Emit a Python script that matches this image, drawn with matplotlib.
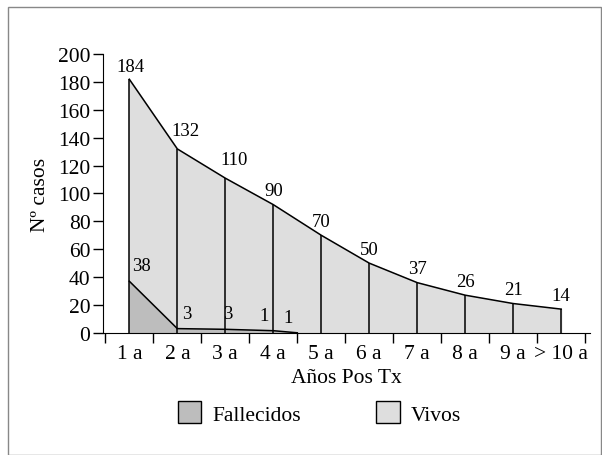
import matplotlib.pyplot as plt
from matplotlib.patches import Patch, Rectangle

plt.rcParams['font.family'] = ['Liberation Serif', 'DejaVu Serif']

categorias = ['1 a', '2 a', '3 a', '4 a', '5 a', '6 a', '7 a', '8 a', '9 a', '> 10 a']
vivos = [182, 132, 111, 92, 70, 50, 36, 27, 21, 17]
vivos_etiquetas = ['184', '132', '110', '90', '70', '50', '37', '26', '21', '14']
fallecidos = [37, 3, 2.5, 1.5]
fallecidos_etiquetas = ['38', '3', '3', '1', '1']

fig = plt.figure(figsize=(6.02, 4.56), dpi=100)
ax = fig.add_axes([0.171, 0.268, 0.809, 0.611])

x = list(range(len(categorias)))

# Vivos area with vertical lines at each category
ax.fill_between(x, 0, vivos, color='#dedede', zorder=1)
ax.plot(x, vivos, color='black', lw=1.1, zorder=3)
ax.vlines(x, 0, vivos, color='black', lw=1.1, zorder=3)

# Fallecidos area, falls to 0 halfway to 5 a
fx = list(range(len(fallecidos))) + [len(fallecidos) - 0.5]
fy = fallecidos + [0]
ax.fill_between(fx, 0, fy, color='#bdbdbd', zorder=2)
ax.plot(fx, fy, color='black', lw=1.1, zorder=3)

# value labels
for xi, v, t in zip(x, vivos, vivos_etiquetas):
    dx = 0.02 if xi == 0 else 0.18 if xi < 3 else 0.0
    dy = 3 if xi == 0 else 7 if xi < 3 else 4
    ax.text(xi + dx, v + dy, t, ha='center', va='bottom', fontsize=13.5)
lab_x = [0.25, 0.2, 0.05, -0.2, 0.3]
for i, t in enumerate(fallecidos_etiquetas):
    base = min(i, len(fallecidos) - 1)
    ax.text(base + lab_x[i], fy[min(i, len(fy) - 1)] + 5, t,
            ha='center', va='bottom', fontsize=13.5)

ax.set_ylim(0, 200)
ax.set_yticks(range(0, 201, 20))
ax.set_xticks([i - 0.5 for i in range(len(categorias) + 1)])
ax.set_xticklabels([])
ax.set_xticks(x, minor=True)
ax.set_xticklabels(categorias, minor=True, fontsize=15.5)
ax.tick_params(axis='x', which='minor', length=0, pad=8)
ax.tick_params(axis='x', which='major', length=7, direction='out', width=1)
ax.tick_params(axis='y', length=7, width=1, labelsize=15.5, pad=2)
for s in ['top', 'right']:
    ax.spines[s].set_visible(False)
ax.spines['left'].set_position(('data', -0.55))
ax.spines['bottom'].set_bounds(-0.55, 9.6)
ax.set_xlim(-0.55, 9.6)

ax.set_xlabel('Años Pos Tx', fontsize=15.5, labelpad=4)
ax.set_ylabel('Nº casos', fontsize=15.5, labelpad=6)

handles = [Patch(facecolor='#bdbdbd', edgecolor='black', label='Fallecidos'),
           Patch(facecolor='#dedede', edgecolor='black', label='Vivos')]
fig.legend(handles=handles, loc='center', bbox_to_anchor=(0.53, 0.092), ncol=2,
           frameon=False, fontsize=15.5, handlelength=1.1, handleheight=1.2,
           columnspacing=3.5, handletextpad=0.5)

fig.patches.append(Rectangle((0.013, 0.0), 0.985, 0.983, transform=fig.transFigure,
                             fill=False, edgecolor='#888888', lw=1))

fig.savefig('out.png', dpi=100)
